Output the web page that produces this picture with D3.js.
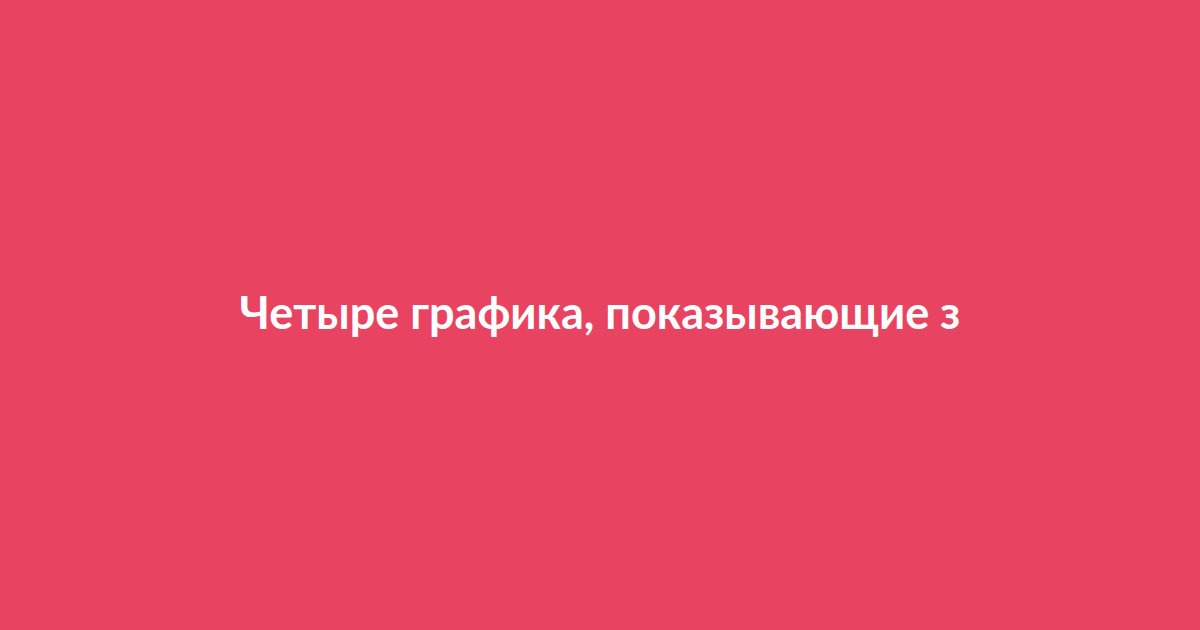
<!DOCTYPE html>
<html lang='ru'>
  <head>
    <meta charset='utf-8'>
    <title>Четыре графика</title>
    <script type='text/javascript' src='https://cdn.jsdelivr.net/npm/d3@7'></script>
    <style type='text/css'>
    html, body{
      margin: 0;
      padding: 0;
      overflow: hidden;
    }
    </style>
  </head>
  <body>
    <script type='text/javascript'>

    var w = 1200;
    var h = 630;

    // single caption line shown on the card
    var titles = ['Четыре графика, показывающие з'];
    var bgColor = '#e84461';

    var svg = d3.select('body')
                .append('svg')
                .attr('width', w)
                .attr('height', h);

    svg.append('rect')
       .attr('width', w)
       .attr('height', h)
       .attr('fill', bgColor);

    var yScale = d3.scaleBand()
                   .domain(titles)
                   .range([0, h]);

    // baseline sits a bit below the vertical centre
    svg.selectAll('text.title')
       .data(titles)
       .enter()
       .append('text')
       .attr('class', 'title')
       .attr('x', w / 2)
       .attr('y', function(d){
         return yScale(d) + yScale.bandwidth() / 2 + 14;
       })
       .attr('text-anchor', 'middle')
       .attr('font-family', 'Lato, sans-serif')
       .attr('font-weight', 'bold')
       .attr('font-size', '45px')
       .attr('fill', '#ffffff')
       .text(function(d){ return d; });

    </script>
  </body>
</html>
